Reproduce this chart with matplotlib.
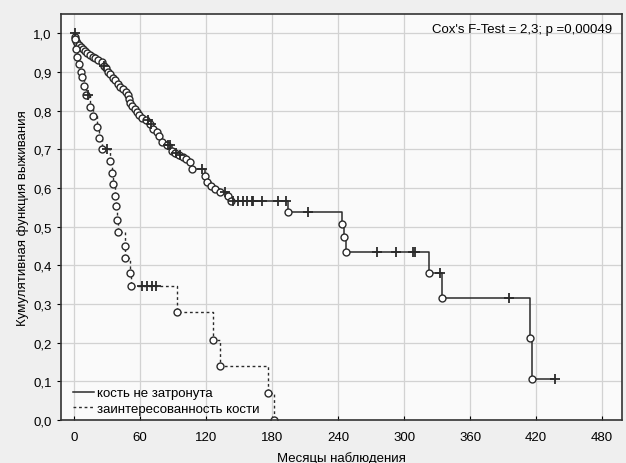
import matplotlib
matplotlib.use("Agg")
import matplotlib.pyplot as plt
import numpy as np

plt.rcParams['font.family'] = ['Liberation Sans', 'DejaVu Sans']

# group 1: кость не затронута (events -> circles, censored -> crosses)
g1_event_t = [1, 2, 3, 4, 6, 8, 10, 12, 14, 17, 19, 22, 25, 27, 29, 31, 33, 35, 37, 40,
              42, 44, 47, 49, 50, 51, 53, 55, 57, 59, 62, 65, 69, 72, 75, 77, 80, 84, 89,
              92, 95, 99, 102, 105, 107, 119, 121, 124, 128, 133, 140, 143,
              194.5, 243.6, 245, 247, 323, 334.5, 414.5, 416]
g1_event_s = [0.99, 0.98, 0.975, 0.97, 0.965, 0.96, 0.955, 0.95, 0.945, 0.94, 0.935, 0.93,
              0.925, 0.915, 0.91, 0.90, 0.895, 0.885, 0.878, 0.87, 0.86, 0.855, 0.848, 0.84,
              0.83, 0.82, 0.812, 0.805, 0.797, 0.79, 0.782, 0.775, 0.765, 0.752, 0.744, 0.734,
              0.718, 0.71, 0.695, 0.69, 0.685, 0.68, 0.674, 0.667, 0.649, 0.63, 0.615, 0.605,
              0.597, 0.59, 0.58, 0.566,
              0.537, 0.506, 0.473, 0.434, 0.38, 0.316, 0.212, 0.106]
g1_cens_t = [0.5, 27.5, 67, 69.5, 85, 87.5, 93, 96, 116, 137,
             144.5, 149, 153.6, 157, 161.8, 162.7, 171, 185.5, 192.7,
             213, 275, 293, 308, 310, 333, 395, 437]

# group 2: заинтересованность кости
g2_event_t = [1, 2, 3, 4, 6, 7, 9, 11, 14, 17, 21, 23, 25, 33, 34, 35, 37, 38, 39, 40,
              46, 46.5, 51, 52, 93.5, 126, 133, 176, 182]
g2_event_s = [0.985, 0.96, 0.94, 0.92, 0.90, 0.886, 0.863, 0.84, 0.81, 0.785, 0.757, 0.73,
              0.70, 0.67, 0.64, 0.61, 0.58, 0.553, 0.517, 0.486, 0.45, 0.42, 0.38, 0.347,
              0.28, 0.207, 0.14, 0.07, 0.0]
g2_cens_t = [12.5, 30, 62, 66, 71, 74]

x_ticks = [0, 60, 120, 180, 240, 300, 360, 420, 480]
y_ticks = [0.0, 0.1, 0.2, 0.3, 0.4, 0.5, 0.6, 0.7, 0.8, 0.9, 1.0]
y_labels = ['0,0', '0,1', '0,2', '0,3', '0,4', '0,5', '0,6', '0,7', '0,8', '0,9', '1,0']
labels = ['кость не затронута', 'заинтересованность кости']
cox_text = "Cox's F-Test = 2,3; p =0,00049"


def step_path(ev_t, ev_s, end_t):
    xs, ys = [0], [1.0]
    s = 1.0
    for t, v in zip(ev_t, ev_s):
        xs += [t, t]
        ys += [s, v]
        s = v
    if end_t > xs[-1]:
        xs.append(end_t)
        ys.append(s)
    return np.array(xs), np.array(ys)


def level_at(ev_t, ev_s, t):
    s = 1.0
    for et, v in zip(ev_t, ev_s):
        if et <= t:
            s = v
    return s


fig = plt.figure(figsize=(6.26, 4.64), dpi=100, facecolor='#efefef')
ax = fig.add_axes([0.0974, 0.0927, 0.8962, 0.875])
ax.set_facecolor('#fafafa')

lc = '#2a2a2a'
x1, y1 = step_path(g1_event_t, g1_event_s, max(g1_cens_t))
ax.plot(x1, y1, color=lc, lw=1.1, label=labels[0])
ax.plot(g1_event_t, g1_event_s, 'o', ms=5, mfc='white', mec=lc, mew=1.0)
ax.plot(g1_cens_t, [level_at(g1_event_t, g1_event_s, t) for t in g1_cens_t], '+',
        ms=7, mec=lc, mew=1.3)

x2, y2 = step_path(g2_event_t, g2_event_s, 0)
ax.plot(x2, y2, color=lc, lw=1.0, ls=(0, (2, 2)), label=labels[1])
ax.plot(g2_event_t, g2_event_s, 'o', ms=5, mfc='white', mec=lc, mew=1.0)
ax.plot(g2_cens_t, [level_at(g2_event_t, g2_event_s, t) for t in g2_cens_t], '+',
        ms=7, mec=lc, mew=1.3)

ax.set_xlim(-12, 498)
ax.set_ylim(0, 1.05)
ax.set_xticks(x_ticks)
ax.set_yticks(y_ticks)
ax.set_yticklabels(y_labels)
ax.grid(True, color='#d2d2d2', lw=0.9)
ax.set_axisbelow(True)
ax.tick_params(axis='x', direction='in', length=3, labelsize=9.5, pad=8)
ax.tick_params(axis='y', direction='out', length=3, labelsize=9.5)
for sp in ax.spines.values():
    sp.set_color('#333333')
    sp.set_linewidth(1.2)

ax.set_xlabel('Месяцы наблюдения', fontsize=9.5, labelpad=6)
ax.set_ylabel('Кумулятивная функция выживания', fontsize=9.5, labelpad=3)

ax.text(0.982, 0.977, cox_text, transform=ax.transAxes, ha='right', va='top', fontsize=9.5)

ax.legend(loc='lower left', bbox_to_anchor=(0.012, 0.0), frameon=False, fontsize=9.5,
          handlelength=1.6, handletextpad=0.25, labelspacing=0.25, borderaxespad=0.2,
          borderpad=0.2)

fig.savefig('out.png', dpi=100, facecolor=fig.get_facecolor())
